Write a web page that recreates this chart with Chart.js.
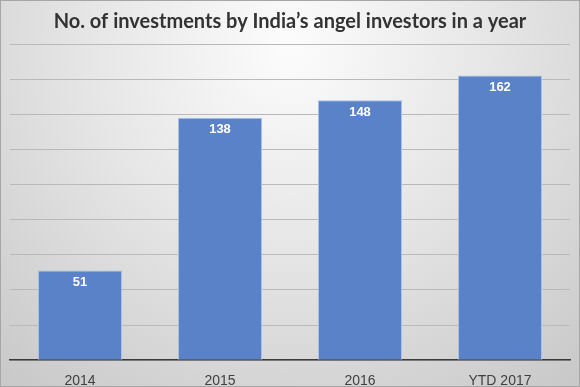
<!DOCTYPE html>
<html>
<head>
<meta charset="utf-8">
<script src="https://cdn.jsdelivr.net/npm/chart.js@4"></script>
<style>
  html, body { margin: 0; padding: 0; background: #fff; }
  #wrap { width: 580px; height: 387px; }
</style>
</head>
<body>
<div id="wrap"><canvas id="bar-chart" width="580" height="387"></canvas></div>
<script>
// data
let years = ["2014", "2015", "2016", "YTD 2017"];
let investments = [51, 138, 148, 162];

// gray radial background + thin frame
let bgPlugin = {
  id: "bg",
  beforeDraw: function(chart) {
    let ctx = chart.ctx;
    let w = chart.width, h = chart.height;
    ctx.save();
    let g = ctx.createRadialGradient(w * 0.5, h * 0.12, 10, w * 0.5, h * 0.12, w * 0.75);
    g.addColorStop(0, "#fbfbfb");
    g.addColorStop(0.45, "#e6e6e6");
    g.addColorStop(1, "#c9c9c9");
    ctx.fillStyle = g;
    ctx.fillRect(0, 0, w, h);
    ctx.strokeStyle = "#a6a6a6";
    ctx.lineWidth = 1;
    ctx.strokeRect(0.5, 0.5, w - 1, h - 1);
    ctx.restore();
  }
};

// white value labels inside the top of each bar
let labelPlugin = {
  id: "barLabels",
  afterDatasetsDraw: function(chart) {
    let ctx = chart.ctx;
    let meta = chart.getDatasetMeta(0);
    ctx.save();
    ctx.font = "bold 13px 'Liberation Sans', Arial, sans-serif";
    ctx.fillStyle = "#ffffff";
    ctx.textAlign = "center";
    ctx.textBaseline = "middle";
    meta.data.forEach(function(bar, i) {
      ctx.fillText(investments[i], bar.x, bar.y + 12);
    });
    ctx.restore();
  }
};

new Chart(document.getElementById("bar-chart"), {
  type: "bar",
  data: {
    labels: years,
    datasets: [{
      data: investments,
      backgroundColor: "#5982c8",
      borderColor: "#a9bfe6",
      borderWidth: 1,
      barPercentage: 0.6,
      categoryPercentage: 1
    }]
  },
  options: {
    responsive: false,
    animation: false,
    layout: { padding: { left: 10, right: 10, top: 0, bottom: -16 } },
    scales: {
      x: {
        grid: { display: false, drawTicks: false },
        border: { display: true, color: "#3a3a3a", width: 1.5 },
        ticks: {
          padding: 13,
          color: "#404040",
          font: { family: "'Liberation Sans', Arial, sans-serif", size: 14 }
        }
      },
      y: {
        min: 0,
        max: 180,
        ticks: { display: false, stepSize: 20 },
        grid: { color: "#b9b9b9", lineWidth: 1, drawTicks: false },
        border: { display: false }
      }
    },
    plugins: {
      legend: { display: false },
      tooltip: { enabled: false },
      title: {
        display: true,
        text: "No. of investments by India\u2019s angel investors in a year",
        color: "#333333",
        font: { family: "Lato, 'Open Sans', sans-serif", size: 20, weight: "bold" },
        padding: { top: 10, bottom: 10 }
      }
    }
  },
  plugins: [bgPlugin, labelPlugin]
});
</script>
</body>
</html>
